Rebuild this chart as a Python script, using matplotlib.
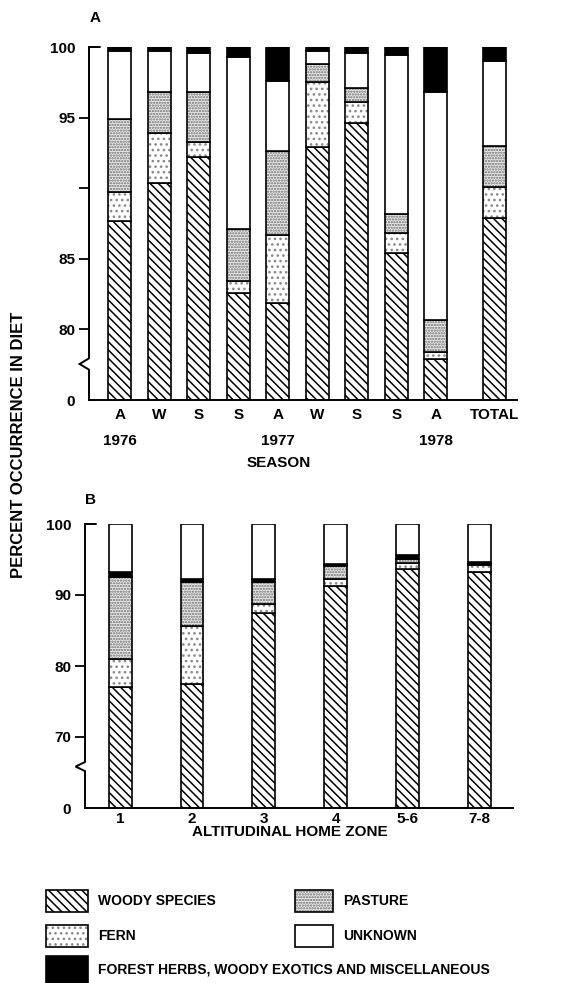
import numpy as np
import matplotlib
matplotlib.use("Agg")
import matplotlib.pyplot as plt
from matplotlib.patches import Rectangle

plt.rcParams['font.family'] = ['Liberation Sans', 'DejaVu Sans']
plt.rcParams['font.weight'] = 'bold'
plt.rcParams['hatch.linewidth'] = 1.1

# panel A: diet by season (percent of each class)
season_labels = ['A', 'W', 'S', 'S', 'A', 'W', 'S', 'S', 'A', 'TOTAL']
year_labels = ['1976', '1977', '1978']
year_under = [0, 4, 8]
a_woody = [87.7, 90.4, 92.2, 82.6, 81.9, 92.9, 94.6, 85.4, 77.9, 87.9]
a_fern = [2.0, 3.5, 1.1, 0.8, 4.8, 4.6, 1.5, 1.4, 0.5, 2.2]
a_pasture = [5.2, 2.9, 3.5, 3.7, 5.9, 1.3, 1.0, 1.4, 2.3, 2.9]
a_unknown = [4.8, 2.9, 2.8, 12.2, 5.0, 0.9, 2.5, 11.2, 16.1, 6.0]
a_misc = [0.3, 0.3, 0.4, 0.7, 2.4, 0.3, 0.4, 0.6, 3.2, 1.0]

# panel B: diet by altitudinal home zone
zone_labels = ['1', '2', '3', '4', '5-6', '7-8']
b_woody = [77.0, 77.5, 87.4, 91.3, 93.7, 93.2]
b_fern = [4.0, 8.1, 1.4, 0.9, 0.8, 1.0]
b_pasture = [11.5, 6.3, 3.0, 1.9, 0.6, 0.1]
b_misc = [0.8, 0.4, 0.4, 0.3, 0.6, 0.4]
b_unknown = [6.7, 7.7, 7.8, 5.6, 4.3, 5.3]

W, H = 574, 983
fig = plt.figure(figsize=(W / 100, H / 100), dpi=100)

# face colour, hatch, hatch colour
styles = {
    'woody': ('white', '\\\\\\\\', 'black'),
    'fern': ('white', '...', '#8a8a8a'),
    'pasture': ('#ececec', '......', '#6a6a6a'),
    'unknown': ('white', None, 'black'),
    'misc': ('black', None, 'black'),
}


def fx(px):
    return px / W


def fy(py):
    return 1 - py / H


def stack(ax, x, width, parts):
    bottom = np.zeros(len(x))
    for key, vals in parts:
        fc, hatch, hc = styles[key]
        ax.bar(x, vals, width, bottom=bottom, facecolor=fc, hatch=hatch,
               edgecolor=hc, linewidth=0)
        ax.bar(x, vals, width, bottom=bottom, fill=False,
               edgecolor='black', linewidth=1.2)
        bottom = bottom + np.array(vals)


def style_axis(ax, lo, ticks, labels, brk):
    for s in ['top', 'right']:
        ax.spines[s].set_visible(False)
    ax.spines['left'].set_visible(False)
    ax.spines['bottom'].set_linewidth(1.4)
    ax.set_ylim(lo, 100)
    ax.set_yticks(ticks)
    ax.set_yticklabels(labels, fontsize=11, fontweight='bold')
    ax.tick_params(axis='y', length=7, width=1.3, pad=3)
    ax.tick_params(axis='x', length=0)
    yt = ax.yaxis.get_major_ticks()
    yt[0].tick1line.set_visible(False)
    yt[-1].tick1line.set_visible(False)
    tr = ax.get_yaxis_transform()
    d = (100 - lo)
    # left axis with break mark
    ax.plot([0, 0, -0.022, 0.0, 0, 0.025],
            [lo, brk - 0.010 * d, brk + 0.006 * d, brk + 0.022 * d, 100, 100],
            transform=tr, color='black', lw=1.4, clip_on=False,
            solid_joinstyle='miter')


# ---- panel A
axA = fig.add_axes([fx(89), fy(400), fx(517 - 89), fy(47) - fy(400)])
xa = np.array([0, 1, 2, 3, 4, 5, 6, 7, 8, 9.5])
stack(axA, xa, 0.58, [('woody', a_woody), ('fern', a_fern),
                      ('pasture', a_pasture), ('unknown', a_unknown),
                      ('misc', a_misc)])
axA.set_xlim(-0.78, 10.06)
style_axis(axA, 75, [75, 80, 85, 90, 95, 100],
           ['0', '80', '85', '', '95', '100'], 77.4)
axA.set_xticks(xa)
axA.set_xticklabels(season_labels, fontsize=11, fontweight='bold')
axA.tick_params(axis='x', pad=6)
for yl, i in zip(year_labels, year_under):
    axA.text(xa[i], -0.115, yl, transform=axA.get_xaxis_transform(),
             ha='center', va='center', fontsize=11, fontweight='bold')
fig.text(fx(279), fy(463), 'SEASON', ha='center', va='center',
         fontsize=11, fontweight='bold')
fig.text(fx(95), fy(18), 'A', ha='center', va='center', fontsize=11,
         fontweight='bold')

# ---- panel B
axB = fig.add_axes([fx(85), fy(808), fx(513 - 85), fy(524) - fy(808)])
xb = np.arange(len(zone_labels))
stack(axB, xb, 0.32, [('woody', b_woody), ('fern', b_fern),
                      ('pasture', b_pasture), ('misc', b_misc),
                      ('unknown', b_unknown)])
axB.set_xlim(-0.49, 5.47)
style_axis(axB, 60, [60, 70, 80, 90, 100], ['0', '70', '80', '90', '100'],
           65.6)
axB.set_xticks(xb)
axB.set_xticklabels(zone_labels, fontsize=11, fontweight='bold')
axB.tick_params(axis='x', pad=3)
fig.text(fx(290), fy(832), 'ALTITUDINAL HOME ZONE', ha='center',
         va='center', fontsize=11, fontweight='bold')
fig.text(fx(90), fy(500), 'B', ha='center', va='center', fontsize=11,
         fontweight='bold')

fig.text(fx(19), fy(445), 'PERCENT OCCURRENCE IN DIET', rotation=90,
         ha='center', va='center', fontsize=12, fontweight='bold')

# ---- legend
legend_items = [
    ('woody', 'WOODY SPECIES', 46, 890, 42, 22),
    ('pasture', 'PASTURE', 295, 890, 38, 22),
    ('fern', 'FERN', 46, 925, 42, 22),
    ('unknown', 'UNKNOWN', 295, 925, 38, 22),
    ('misc', 'FOREST HERBS, WOODY EXOTICS AND MISCELLANEOUS', 46, 956, 42, 27),
]
for key, label, x0, y0, w, h in legend_items:
    fc, hatch, hc = styles[key]
    rect = (fx(x0), fy(y0 + h))
    rw, rh = fx(w), fy(y0) - fy(y0 + h)
    fig.patches.append(Rectangle(rect, rw, rh, transform=fig.transFigure,
                                 facecolor=fc, hatch=hatch, edgecolor=hc,
                                 linewidth=0))
    fig.patches.append(Rectangle(rect, rw, rh, transform=fig.transFigure,
                                 fill=False, edgecolor='black', linewidth=1.2))
    fig.text(fx(x0 + w + 10), fy(y0 + h / 2), label, ha='left', va='center',
             fontsize=10, fontweight='bold')

fig.savefig('out.png', dpi=100)
